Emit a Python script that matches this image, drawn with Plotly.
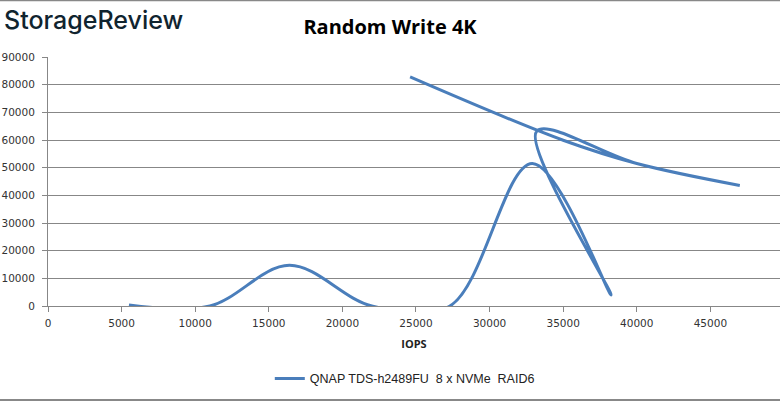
import plotly.graph_objects as go

# Data (x = IOPS, y = value), in drawing order
iops = [5500, 11000, 16400, 22000, 27300, 32900, 38250, 33200, 40000, 47000, 40000, 35000, 24600]
values = [400, 0, 14700, 0, 0, 51500, 4000, 63200, 51500, 43570, 51500, 59900, 82800]
series_name = "QNAP TDS-h2489FU  8 x NVMe  RAID6"

x_ticks = [0, 5000, 10000, 15000, 20000, 25000, 30000, 35000, 40000, 45000]
y_ticks = [0, 10000, 20000, 30000, 40000, 50000, 60000, 70000, 80000, 90000]

fig = go.Figure()
fig.add_trace(go.Scatter(
    x=iops, y=values, mode="lines", name=series_name,
    line=dict(color="#4a7ebb", width=3, shape="spline", smoothing=1.0),
))

tick_font = dict(family="DejaVu Sans", size=10.5, color="#333333")

fig.update_layout(
    width=780, height=401,
    margin=dict(l=48, r=0, t=57, b=95, autoexpand=False),
    paper_bgcolor="white", plot_bgcolor="white",
    showlegend=True,
    legend=dict(orientation="h", x=0.303, xanchor="left", y=-0.293, yanchor="middle",
                font=dict(family="Liberation Sans", size=12.5, color="#222222"),
                itemwidth=30),
    xaxis=dict(range=[0, 49730], tickvals=x_ticks, ticktext=[str(v) for v in x_ticks],
               showgrid=False, zeroline=False, showline=True, linecolor="#878787",
               ticks="outside", ticklen=5, tickcolor="#878787", tickfont=tick_font,
               ticklabelstandoff=2, automargin=False,
               title=dict(text="<b>IOPS</b>", font=dict(family="Open Sans", size=11, color="#222222"),
                          standoff=12)),
    yaxis=dict(range=[0, 90000], tickvals=y_ticks, ticktext=[str(v) for v in y_ticks],
               showgrid=True, gridcolor="#878787", gridwidth=1, zeroline=False,
               showline=True, linecolor="#878787", automargin=False,
               ticks="outside", ticklen=5, tickcolor="#878787", tickfont=tick_font,
               ticklabelstandoff=5),
    title=dict(text="<b>Random Write 4K</b>", x=0.5, xanchor="center", y=0.933, yanchor="middle",
               font=dict(family="Open Sans", size=20, color="#000000")),
    annotations=[
        dict(text="StorageReview", xref="paper", yref="paper", x=-0.063, y=1.149,
             xanchor="left", yanchor="middle", showarrow=False,
             font=dict(family="Inter", size=25, color="#10242f", weight=500)),
        dict(text="50000", xref="x", yref="paper", x=50000, y=-0.055, xanchor="center",
             yanchor="top", showarrow=False, font=tick_font),
    ],
    shapes=[
        dict(type="line", xref="paper", yref="paper", x0=-0.1, x1=1.1, y0=1.228, y1=1.228,
             line=dict(color="#888888", width=2)),
        dict(type="line", xref="paper", yref="paper", x0=-0.1, x1=1.1, y0=-0.378, y1=-0.378,
             line=dict(color="#888888", width=2)),
    ],
)

fig.write_html("out.html", config={"displayModeBar": False},
               post_script="document.body.style.margin='0';")
